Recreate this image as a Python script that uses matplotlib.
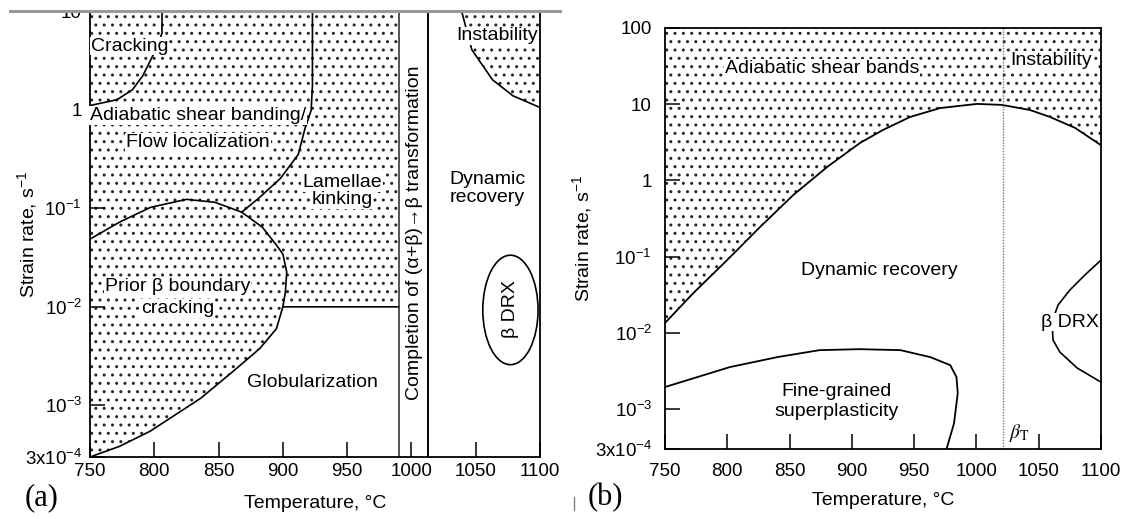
import numpy as np
import matplotlib
matplotlib.use('Agg')
import matplotlib.pyplot as plt
from matplotlib.patches import Ellipse, Rectangle
from matplotlib.lines import Line2D

plt.rcParams['font.family'] = ['Liberation Sans', 'DejaVu Sans']
plt.rcParams['mathtext.fontset'] = 'custom'
plt.rcParams['mathtext.rm'] = 'Liberation Sans'
plt.rcParams['mathtext.it'] = 'Liberation Sans:italic'
plt.rcParams['mathtext.bf'] = 'Liberation Sans:bold'
plt.rcParams['hatch.linewidth'] = 1.0
plt.rcParams['hatch.color'] = '0.15'

# ---------------- panel (a) ----------------
a_xlim = (750, 1100)
a_ylim = (3e-4, 10)
a_xticks = [750, 800, 850, 900, 950, 1000, 1050, 1100]
a_yticks = [3e-4, 1e-3, 1e-2, 1e-1, 1, 10]
a_yticklabels = [r'3x10$^{-4}$', r'10$^{-3}$', r'10$^{-2}$', r'10$^{-1}$', '1', '10']

# lower edge of the dotted (unstable) domain, left of the transformation band
a_low_T = [750, 773, 797, 836, 861, 882, 895, 900, 990]
a_low_r = [3e-4, 3.85e-4, 5.5e-4, 1.18e-3, 2.2e-3, 3.77e-3, 6.0e-3, 0.01, 0.01]
a_band_T = 990          # start of completion of (a+b)->b band
a_transus_T = 1013      # end of band

# prior beta boundary cracking domain, upper edge
a_prior_T = [750, 773, 797, 825, 847, 868, 884, 895, 900, 903, 902, 900]
a_prior_r = [0.0486, 0.0723, 0.102, 0.123, 0.115, 0.0912, 0.0643, 0.0423,
             0.0343, 0.0226, 0.0142, 0.01]

# cracking domain edge
a_crack_T = [750, 771, 783, 791, 798, 803, 806, 806]
a_crack_r = [1.1, 1.26, 1.59, 2.2, 3.35, 4.54, 6.0, 10]

# adiabatic shear banding / lamellae kinking boundary
a_kink_T = [868, 882, 898, 912, 917, 922, 923, 923]
a_kink_r = [0.0912, 0.129, 0.2, 0.351, 0.628, 0.98, 1.75, 10]

# instability domain edge
a_inst_T = [1039, 1047, 1063, 1079, 1100]
a_inst_r = [10, 4.04, 2.01, 1.38, 1.05]

# beta DRX ellipse: centre, width (C), height (decades)
a_drx_T, a_drx_r = 1077, 0.0093
a_drx_w, a_drx_h = 43, 1.11

# ---------------- panel (b) ----------------
b_xlim = (750, 1100)
b_ylim = (3e-4, 100)
b_xticks = [750, 800, 850, 900, 950, 1000, 1050, 1100]
b_yticks = [3e-4, 1e-3, 1e-2, 1e-1, 1, 10, 100]
b_yticklabels = [r'3x10$^{-4}$', r'10$^{-3}$', r'10$^{-2}$', r'10$^{-1}$', '1', '10', '100']

b_asb_T = [750, 772.5, 799.8, 826.3, 852.8, 880.1, 906.5, 925, 946.7, 970.8,
           1000.5, 1020.5, 1043, 1059.1, 1079.1, 1100]
b_asb_r = [0.0135, 0.033, 0.09, 0.245, 0.64, 1.5, 3.1, 4.6, 6.8, 8.9,
           10.1, 9.8, 8.4, 6.8, 4.9, 2.9]

b_sp_T = [750, 802, 840, 874, 906, 939, 963, 979, 984, 985, 982, 976]
b_sp_r = [1.95e-3, 3.56e-3, 4.81e-3, 5.94e-3, 6.12e-3, 5.94e-3, 4.81e-3,
          3.78e-3, 2.63e-3, 1.62e-3, 6.5e-4, 3e-4]

b_drx_T = [1100, 1087, 1075, 1065.5, 1060.7, 1061.5, 1067, 1081, 1100]
b_drx_r = [0.0902, 0.0574, 0.0365, 0.0232, 0.0139, 8.05e-3, 5.6e-3, 3.45e-3, 2.26e-3]

b_transus_T = 1021

W, H = 1146, 519
fig = plt.figure(figsize=(W / 100, H / 100), dpi=100)
ax_a = fig.add_axes([90 / W, 1 - 457 / H, 450 / W, 446 / H])
ax_b = fig.add_axes([665 / W, 1 - 449 / H, 436 / W, 421 / H])

dots = dict(facecolor='white', edgecolor='0.15', linewidth=0, hatch='..')
lab = dict(fontsize=14, ha='center', va='center')
wbox = dict(facecolor='white', edgecolor='none', pad=0.5)


def style_axes(ax, xlim, ylim, xticks, yticks, yticklabels, xpad, ypad, xlabelpad):
    ax.set_yscale('log')
    ax.set_xlim(xlim)
    ax.set_ylim(ylim)
    ax.set_xticks(xticks)
    ax.set_yticks(yticks)
    ax.set_yticklabels(yticklabels)
    ax.minorticks_off()
    ax.tick_params(direction='in', length=11, width=1.1, labelsize=13.5)
    ax.tick_params(axis='x', pad=xpad)
    ax.tick_params(axis='y', pad=ypad)
    for s in ax.spines.values():
        s.set_linewidth(1.3)
    ax.set_xlabel('Temperature, °C', fontsize=14, labelpad=xlabelpad)
    ax.set_ylabel(r'Strain rate, s$^{-1}$', fontsize=14)


# ---- (a) ----
style_axes(ax_a, a_xlim, a_ylim, a_xticks, a_yticks, a_yticklabels, 4.3, 5.8, 11)
ax_a.yaxis.set_label_coords(-0.113, 0.5)

ax_a.fill(a_low_T + [a_band_T, a_xlim[0]], a_low_r + [a_ylim[1], a_ylim[1]], **dots)
ax_a.fill(a_inst_T + [a_xlim[1]], a_inst_r + [a_ylim[1]], **dots)

ax_a.plot(a_low_T, a_low_r, color='k', lw=1.2)
ax_a.plot(a_prior_T, a_prior_r, color='k', lw=1.2)
ax_a.plot(a_crack_T, a_crack_r, color='k', lw=1.2)
ax_a.plot(a_kink_T, a_kink_r, color='k', lw=1.2)
ax_a.plot(a_inst_T, a_inst_r, color='k', lw=1.2)
ax_a.axvline(a_band_T, color='0.15', lw=1.1)
ax_a.axvline(a_transus_T, color='k', lw=1.4)

to_axes = ax_a.transScale + ax_a.transLimits
cx, cy = to_axes.transform((a_drx_T, a_drx_r))
ax_a.add_patch(Ellipse((cx, cy), a_drx_w / (a_xlim[1] - a_xlim[0]),
                       a_drx_h / np.log10(a_ylim[1] / a_ylim[0]),
                       transform=ax_a.transAxes, fill=False, color='k', lw=1.2))

ax_a.text(781, 4.4, 'Cracking', bbox=wbox, **lab)
ax_a.text(834, 0.87, 'Adiabatic shear banding/', bbox=wbox, **lab)
ax_a.text(834, 0.464, 'Flow localization', bbox=wbox, **lab)
ax_a.text(946, 0.183, 'Lamellae', bbox=wbox, **lab)
ax_a.text(946, 0.123, 'kinking', bbox=wbox, **lab)
ax_a.text(1059, 0.158, 'Dynamic\nrecovery', linespacing=1.05, **lab)
ax_a.text(1066.5, 5.6, 'Instability', bbox=wbox, **lab)
ax_a.text(818, 0.0159, 'Prior β boundary', bbox=wbox, **lab)
ax_a.text(818, 0.0096, 'cracking', bbox=wbox, **lab)
ax_a.text(923, 1.72e-3, 'Globularization', **lab)
ax_a.text(1002, 0.0566, 'Completion of (α+β)→β transformation', rotation=90, **lab)
ax_a.text(1077, 0.0096, 'β DRX', rotation=90, **lab)

# ---- (b) ----
style_axes(ax_b, b_xlim, b_ylim, b_xticks, b_yticks, b_yticklabels, 10, 9.4, 9)
ax_b.yaxis.set_label_coords(-0.162, 0.5)

ax_b.fill_between(b_asb_T, b_asb_r, b_ylim[1], **dots)
ax_b.plot(b_asb_T, b_asb_r, color='k', lw=1.3)
ax_b.plot(b_sp_T, b_sp_r, color='k', lw=1.3)
ax_b.plot(b_drx_T, b_drx_r, color='k', lw=1.2)
ax_b.axvline(b_transus_T, color='0.45', lw=1.0, ls=(0, (1, 1)))

ax_b.text(876, 29.8, 'Adiabatic shear bands', bbox=wbox, **lab)
ax_b.text(1060, 38, 'Instability', bbox=wbox, **lab)
ax_b.text(922, 0.0667, 'Dynamic recovery', **lab)
ax_b.text(888, 1.27e-3, 'Fine-grained\nsuperplasticity', linespacing=1.25, **lab)
ax_b.text(1075, 0.0139, 'β DRX', bbox=dict(facecolor='white', edgecolor='none', pad=0.3),
          **lab)
ax_b.text(1026, 4.84e-4, r'$\beta_{\mathrm{T}}$', fontsize=14, ha='left', va='center',
          math_fontfamily='stix')

# panel letters and scan marks
fig.text(42 / W, 1 - 498 / H, '(a)', family='Liberation Serif', fontsize=22,
         ha='center', va='center')
fig.text(605 / W, 1 - 498 / H, '(b)', family='Liberation Serif', fontsize=22,
         ha='center', va='center')
fig.add_artist(Rectangle((0, 1 - 10 / H), 570 / W, 10 / H, transform=fig.transFigure,
                         facecolor='white', edgecolor='none', zorder=5))
fig.add_artist(Line2D([10 / W, 560 / W], [1 - 10.5 / H] * 2, color='0.6', lw=2.2, zorder=6))
fig.add_artist(Line2D([574 / W] * 2, [1 - 497 / H, 1 - 510 / H], color='0.5', lw=1, zorder=6))

fig.savefig('out.png', dpi=100)
